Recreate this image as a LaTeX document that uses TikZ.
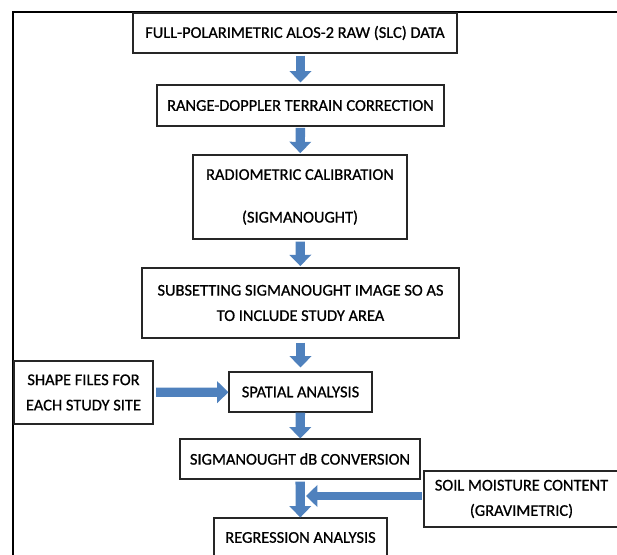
\documentclass[tikz,border=0pt]{standalone}
\usepackage{fontspec}
\setmainfont{Carlito}[UprightFeatures={FakeBold=0.8}]
\usepackage{xcolor}
\usepackage{tikz}
\usetikzlibrary{arrows.meta,positioning,calc}
\definecolor{flowblue}{HTML}{4F81BD}
\definecolor{boxline}{HTML}{262626}

\begin{document}
\begin{tikzpicture}[
            x=0.75pt, y=-0.75pt,
            every node/.style={font=\fontsize{12.3}{19}\selectfont},
            stage/.style={draw=boxline, line width=0.8pt, align=center, fill=white,
                    inner sep=0pt},
            flow/.style={-{Triangle[length=8.5pt,width=16pt]}, line width=7pt, draw=flowblue},
            frame/.style={draw=black, line width=1.4pt}
        ]

        \useasboundingbox (0,0) rectangle (617,555);
        \clip (0,0) rectangle (617,555);

        % ================= outer frame =================
        \draw[frame] (13,12) rectangle (640,580);

        % ================= main column =================
        \node[stage, minimum width=243pt, minimum height=30pt]      (raw)    at (295,33)    {FULL-POLARIMETRIC ALOS-2 RAW (SLC) DATA};
        \node[stage, minimum width=215.25pt, minimum height=30.75pt] (rdtc)   at (300.5,105.5) {RANGE-DOPPLER TERRAIN CORRECTION};
        \node[stage, minimum width=160.5pt, minimum height=63pt]    (calib)  at (300,197)   {RADIOMETRIC CALIBRATION\\[13pt](SIGMANOUGHT)};
        \node[stage, minimum width=237.75pt, minimum height=52.5pt] (subset) at (300.5,303) {SUBSETTING SIGMANOUGHT IMAGE SO AS\\TO INCLUDE STUDY AREA};
        \node[stage, minimum width=107.25pt, minimum height=30pt]   (spat)   at (300.5,392) {SPATIAL ANALYSIS};
        \node[stage, minimum width=180pt, minimum height=30pt]      (db)     at (300,459)   {SIGMANOUGHT dB CONVERSION};
        \node[stage, minimum width=129.75pt, minimum height=29.25pt] (reg)   at (300.5,537.5) {REGRESSION ANALYSIS};

        % ================= side inputs =================
        \node[stage, minimum width=104.25pt, minimum height=47.25pt] (shp)   at (83.5,392.5) {SHAPE FILES FOR\\EACH STUDY SITE};
        \node[stage, minimum width=146.25pt, minimum height=42pt]   (soil)   at (521.5,499) {SOIL MOISTURE CONTENT\\(GRAVIMETRIC)};
        \coordinate (join) at (306,496);

        % ================= arrows =================
        \draw[flow, shorten <=1.5pt, shorten >=1.5pt] (raw.south -| rdtc) -- (rdtc);
        \draw[flow, shorten <=1pt, shorten >=1pt] (rdtc) -- (calib);
        \draw[flow, shorten <=1.5pt, shorten >=1pt] (calib) -- (subset);
        \draw[flow, shorten <=3pt, shorten >=3pt] (subset) -- (spat);
        \draw[flow] (spat) -- (db);
        \draw[flow, shorten <=1.5pt] (db) -- (reg);
        \draw[flow, shorten <=2pt] (shp) -- (spat);
        \draw[flow, line width=5.5pt, shorten <=1pt] (soil.west |- join) -- (join);

    \end{tikzpicture}
\end{document}
